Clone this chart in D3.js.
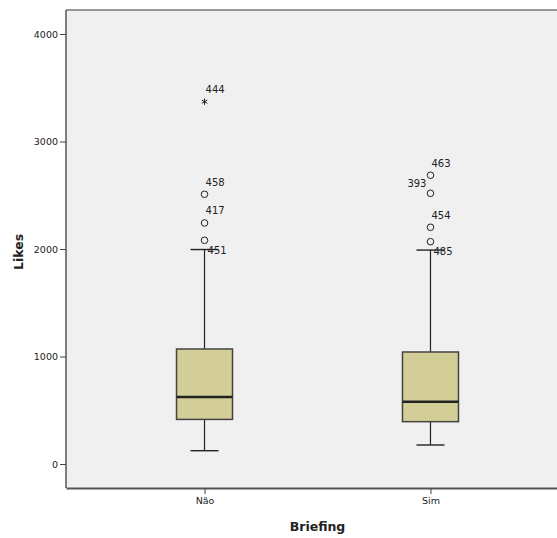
<!DOCTYPE html>
<html>
<head>
<meta charset="utf-8">
<script src="https://cdn.jsdelivr.net/npm/d3@7"></script>
<style>
  body { margin: 0; background: #fff; }
  text { font-family: "DejaVu Sans", sans-serif; fill: #222; }
</style>
</head>
<body>
<div id="box_chart"></div>
<script>
// categories and box statistics (Likes)
var groups = ["Não", "Sim"];
var lowWhisker = [124, 177];
var q1 = [415, 394];
var median = [623, 580];
var q3 = [1070, 1042];
var highWhisker = [1995, 1990];

// outliers: group, value, case id, kind
var outGroup = ["Não", "Não", "Não", "Não", "Sim", "Sim", "Sim", "Sim"];
var outValue = [3370, 2509, 2242, 2081, 2686, 2518, 2202, 2068];
var outId = ["444", "458", "417", "451", "463", "393", "454", "485"];
var outKind = ["extreme", "out", "out", "out", "out", "out", "out", "out"];

var yTicks = [0, 1000, 2000, 3000, 4000];

var width = 557,
    height = 538;

var plotL = 66, plotT = 10, plotR = 569, plotB = 488;

var svg = d3.select("#box_chart")
  .append("svg")
    .attr("width", width)
    .attr("height", height);

var x = d3.scalePoint()
    .domain(groups)
    .range([plotL, plotR])
    .padding(0.613);

var y = d3.scaleLinear()
    .domain([-223, 4223])
    .range([plotB, plotT]);

// plot background
svg.append("rect")
    .attr("x", plotL).attr("y", plotT)
    .attr("width", plotR - plotL).attr("height", plotB - plotT)
    .attr("fill", "#f0f0f0");

// frame
svg.append("line").attr("x1", plotL).attr("x2", plotR).attr("y1", plotT).attr("y2", plotT)
    .attr("stroke", "#777").attr("stroke-width", 1.5);
svg.append("line").attr("x1", plotL).attr("x2", plotL).attr("y1", plotT).attr("y2", plotB)
    .attr("stroke", "#555").attr("stroke-width", 1.5);

// axes
var yAxis = svg.append("g")
    .attr("transform", "translate(" + plotL + ",0)")
    .call(d3.axisLeft(y).tickValues(yTicks).tickFormat(d3.format("d")).tickSize(6).tickPadding(2));
yAxis.select(".domain").remove();
yAxis.selectAll("line").attr("stroke", "#444");
yAxis.selectAll("text").style("font-size", "9.5px").style("fill", "#222");

var xAxis = svg.append("g")
    .attr("transform", "translate(0," + plotB + ")")
    .call(d3.axisBottom(x).tickSize(6).tickPadding(3).tickSizeOuter(0));
xAxis.select(".domain").attr("stroke", "#555").attr("stroke-width", 2);
xAxis.selectAll("line").attr("stroke", "#444");
xAxis.selectAll("text").style("font-size", "9.5px").style("fill", "#222");

// axis titles
svg.append("text")
    .attr("transform", "translate(23," + ((plotT + plotB) / 2 + 3) + ") rotate(-90)")
    .attr("text-anchor", "middle")
    .style("font-size", "12.5px").style("font-weight", "bold")
    .text("Likes");

svg.append("text")
    .attr("x", (plotL + plotR) / 2)
    .attr("y", 531)
    .attr("text-anchor", "middle")
    .style("font-size", "12.5px").style("font-weight", "bold")
    .text("Briefing");

var boxW = 56, capW = 28;

var stats = groups.map(function(g, i) {
  return {key: g, lo: lowWhisker[i], q1: q1[i], med: median[i], q3: q3[i], hi: highWhisker[i]};
});

var box = svg.append("g").selectAll("g")
    .data(stats)
    .enter()
    .append("g");

// whiskers
box.append("line")
    .attr("x1", function(d){ return x(d.key); }).attr("x2", function(d){ return x(d.key); })
    .attr("y1", function(d){ return y(d.lo); }).attr("y2", function(d){ return y(d.q1); })
    .attr("stroke", "#222").attr("stroke-width", 1.2);
box.append("line")
    .attr("x1", function(d){ return x(d.key); }).attr("x2", function(d){ return x(d.key); })
    .attr("y1", function(d){ return y(d.q3); }).attr("y2", function(d){ return y(d.hi); })
    .attr("stroke", "#222").attr("stroke-width", 1.2);
box.append("line")
    .attr("x1", function(d){ return x(d.key) - capW / 2; }).attr("x2", function(d){ return x(d.key) + capW / 2; })
    .attr("y1", function(d){ return y(d.lo); }).attr("y2", function(d){ return y(d.lo); })
    .attr("stroke", "#222").attr("stroke-width", 1.4);
box.append("line")
    .attr("x1", function(d){ return x(d.key) - capW / 2; }).attr("x2", function(d){ return x(d.key) + capW / 2; })
    .attr("y1", function(d){ return y(d.hi); }).attr("y2", function(d){ return y(d.hi); })
    .attr("stroke", "#222").attr("stroke-width", 1.4);

// box
box.append("rect")
    .attr("x", function(d){ return x(d.key) - boxW / 2; })
    .attr("y", function(d){ return y(d.q3); })
    .attr("width", boxW)
    .attr("height", function(d){ return y(d.q1) - y(d.q3); })
    .attr("fill", "#d3ce98")
    .attr("stroke", "#444").attr("stroke-width", 1.5);

// median
box.append("line")
    .attr("x1", function(d){ return x(d.key) - boxW / 2; }).attr("x2", function(d){ return x(d.key) + boxW / 2; })
    .attr("y1", function(d){ return y(d.med); }).attr("y2", function(d){ return y(d.med); })
    .attr("stroke", "#222").attr("stroke-width", 2.5);

// outliers
var outliers = outValue.map(function(v, i) {
  return {key: outGroup[i], value: v, id: outId[i], kind: outKind[i]};
});

// label placement, SPSS style: above right, lowest one below, crowded one to the left
var labelPos = {"451": "below", "485": "below", "393": "left"};

var pts = svg.append("g").selectAll("g")
    .data(outliers)
    .enter()
    .append("g")
    .attr("transform", function(d){ return "translate(" + x(d.key) + "," + y(d.value) + ")"; });

pts.filter(function(d){ return d.kind === "out"; })
  .append("circle")
    .attr("r", 3.3)
    .attr("fill", "none")
    .attr("stroke", "#222")
    .attr("stroke-width", 1);

pts.filter(function(d){ return d.kind === "extreme"; })
  .append("path")
    .attr("d", d3.symbol().type(d3.symbolAsterisk).size(28))
    .attr("fill", "none")
    .attr("stroke", "#222")
    .attr("stroke-width", 1);

pts.append("text")
    .style("font-size", "10px")
    .attr("dominant-baseline", "central")
    .attr("text-anchor", function(d){ return labelPos[d.id] === "left" ? "end" : "start"; })
    .attr("x", function(d){
      var p = labelPos[d.id];
      return p === "left" ? -4 : (p === "below" ? 3 : 1);
    })
    .attr("y", function(d){
      var p = labelPos[d.id];
      return p === "below" ? 10 : (p === "left" ? -10 : -12);
    })
    .text(function(d){ return d.id; });
</script>
</body>
</html>
